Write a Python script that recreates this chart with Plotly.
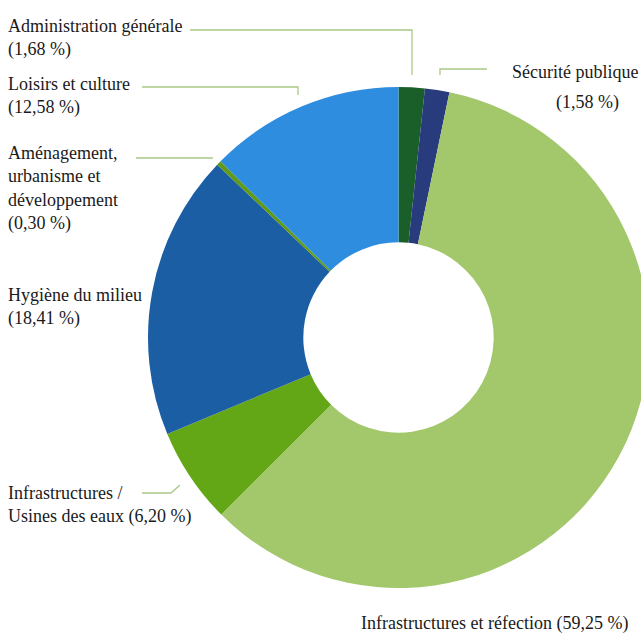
import plotly.graph_objects as go

categories = [
    "Administration générale",
    "Sécurité publique",
    "Infrastructures et réfection",
    "Infrastructures / Usines des eaux",
    "Hygiène du milieu",
    "Aménagement, urbanisme et développement",
    "Loisirs et culture",
]
values = [1.68, 1.58, 59.25, 6.20, 18.41, 0.30, 12.58]
colors = ["#1a5e2a", "#283b7c", "#a3c76b", "#63a716", "#1b5ea3", "#5f9b19", "#2f8de0"]

W, H = 660, 634


def px(x):
    return x / W


def py(y):
    return 1 - y / H


fig = go.Figure(
    go.Pie(
        labels=categories,
        values=values,
        marker=dict(colors=colors, line=dict(width=0)),
        hole=0.38,
        sort=False,
        direction="clockwise",
        rotation=0,
        textinfo="none",
        hoverinfo="label+percent",
        showlegend=False,
        domain=dict(x=[px(148), px(649)], y=[py(588), py(87)]),
    )
)

labels = [
    ("Administration générale<br>(1,68 %)", 6, 38.5),
    ("Loisirs et culture<br>(12,58 %)", 6, 96),
    ("Aménagement,<br>urbanisme et<br>développement<br>(0,30 %)", 6, 189),
    ("Hygiène du milieu<br>(18,41 %)", 6, 306.5),
    ("Infrastructures /<br>Usines des eaux (6,20 %)", 6, 505),
    ("Sécurité publique", 510, 72),
    ("(1,58 %)", 554, 102),
    ("Infrastructures et réfection (59,25 %)", 359, 623),
]
annotations = [
    dict(text=t, x=px(x), y=py(y), xref="paper", yref="paper", xanchor="left",
         yanchor="middle", align="left", showarrow=False,
         font=dict(family="Liberation Serif", size=18, color="#1a1a1a"))
    for t, x, y in labels
]

line_col = "#a9c987"
leaders = [
    [(190, 30), (412, 30), (412, 75)],
    [(440, 75), (440, 69), (487, 69)],
    [(142, 87), (298, 87), (298, 95)],
    [(136, 158), (213, 158)],
    [(142, 493), (171, 493), (180, 485)],
]
shapes = []
for pts in leaders:
    path = "M " + " L ".join(f"{px(x)},{py(y)}" for x, y in pts)
    shapes.append(dict(type="path", path=path, xref="paper", yref="paper",
                       line=dict(color=line_col, width=1.3)))

fig.update_layout(
    width=W,
    height=H,
    margin=dict(l=0, r=0, t=0, b=0),
    paper_bgcolor="white",
    plot_bgcolor="white",
    font=dict(family="Liberation Serif", size=18, color="#1a1a1a"),
    annotations=annotations,
    shapes=shapes,
)

fig.write_html(
    "out.html",
    config=dict(displayModeBar=False),
    post_script="document.body.style.margin='0px';document.documentElement.style.overflow='hidden';document.body.style.overflow='hidden';",
)
